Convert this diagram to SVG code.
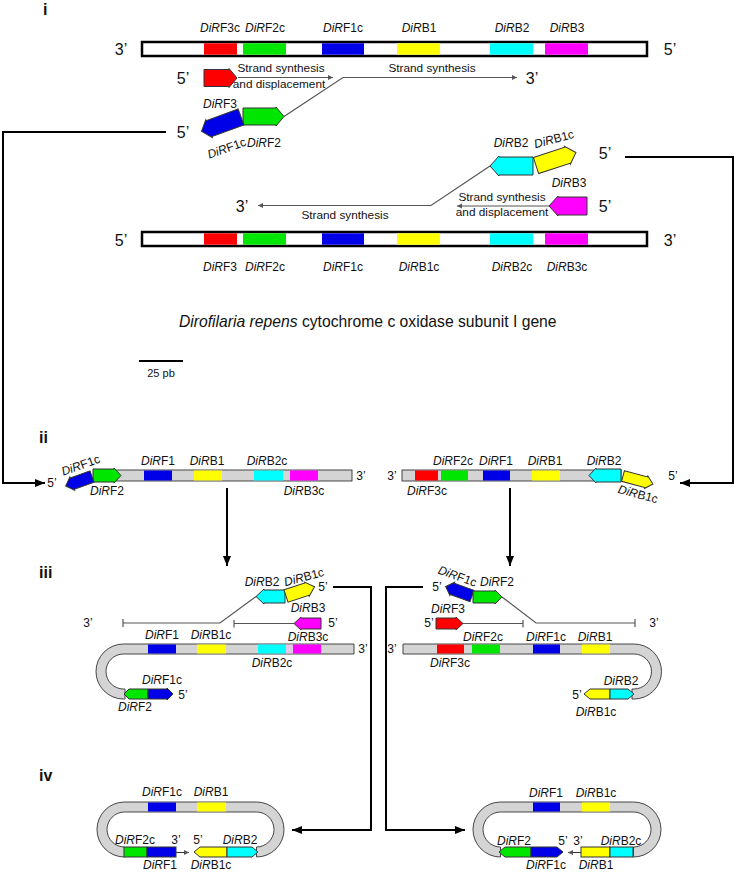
<svg xmlns="http://www.w3.org/2000/svg" width="736" height="872" viewBox="0 0 736 872">
<defs>
<style>
text{font-family:"Liberation Sans",Arial,sans-serif;fill:#111}
.l{font-size:12px}
.e{font-size:12px;text-anchor:middle}
.p{font-size:16px;text-anchor:middle}
.s{font-size:12px;text-anchor:middle}
.st{font-size:11.8px;text-anchor:middle}
.h{font-size:16px;font-weight:bold}
.it{font-style:italic}
.bar{fill:#fff;stroke:#000;stroke-width:2.5}
.gb{fill:#d4d4d4;stroke:#333;stroke-width:0.9}
.ar{stroke:#333;stroke-width:1}
.R{fill:#ff0000}.G{fill:#00e600}.B{fill:#0000e8}.Y{fill:#ffff00}.C{fill:#00ffff}.M{fill:#ff00ff}
.ln{fill:none;stroke:#555;stroke-width:1.2}
.cn{fill:none;stroke:#000;stroke-width:2}
</style>
<marker id="big" markerUnits="userSpaceOnUse" markerWidth="11" markerHeight="9" refX="10" refY="4" orient="auto" viewBox="0 0 11 9"><path d="M0,0 L10,4 L0,8 z" fill="#000"/></marker>
<marker id="sm" markerUnits="userSpaceOnUse" markerWidth="6" markerHeight="6" refX="5" refY="2.5" orient="auto" viewBox="0 0 6 6"><path d="M0,0 L5,2.5 L0,5 z" fill="#555"/></marker>
<marker id="tk" markerUnits="userSpaceOnUse" markerWidth="3" markerHeight="8" refX="1" refY="4" orient="auto" viewBox="0 0 3 8"><path d="M1,0 V8" stroke="#555" stroke-width="1.2"/></marker>
</defs>

<g id="connectors">
<path class="cn" d="M166,132 H3 V483 H45" marker-end="url(#big)"/>
<path class="cn" d="M625,157 H733 V483 H680" marker-end="url(#big)"/>
<path class="cn" d="M227,488 V566" marker-end="url(#big)"/>
<path class="cn" d="M510,488 V566" marker-end="url(#big)"/>
<path class="cn" d="M333,587 H371 V830 H292" marker-end="url(#big)"/>
<path class="cn" d="M423,587 H386 V830 H465" marker-end="url(#big)"/>
</g>

<g id="section-i">
<text class="h" x="43" y="15">i</text>
<g id="top-strand">
<rect class="bar" x="142" y="42" width="505" height="14"/>
<rect class="R" x="204" y="43.3" width="33" height="11.4"/>
<rect class="G" x="243" y="43.3" width="43" height="11.4"/>
<rect class="B" x="322" y="43.3" width="42" height="11.4"/>
<rect class="Y" x="397" y="43.3" width="43" height="11.4"/>
<rect class="C" x="490" y="43.3" width="43" height="11.4"/>
<rect class="M" x="545" y="43.3" width="43" height="11.4"/>
<text class="p" x="121" y="55">3’</text>
<text class="p" x="670" y="55">5’</text>
<text class="e" x="220" y="32"><tspan class="it">DiR</tspan>F3c</text>
<text class="e" x="265" y="32"><tspan class="it">DiR</tspan>F2c</text>
<text class="e" x="343" y="32"><tspan class="it">DiR</tspan>F1c</text>
<text class="e" x="419" y="32"><tspan class="it">DiR</tspan>B1</text>
<text class="e" x="512" y="32"><tspan class="it">DiR</tspan>B2</text>
<text class="e" x="567" y="32"><tspan class="it">DiR</tspan>B3</text>
</g>
<g id="bottom-strand">
<rect class="bar" x="142" y="232" width="505" height="14"/>
<rect class="R" x="204" y="233.3" width="33" height="11.4"/>
<rect class="G" x="243" y="233.3" width="43" height="11.4"/>
<rect class="B" x="322" y="233.3" width="42" height="11.4"/>
<rect class="Y" x="397" y="233.3" width="43" height="11.4"/>
<rect class="C" x="490" y="233.3" width="43" height="11.4"/>
<rect class="M" x="545" y="233.3" width="43" height="11.4"/>
<text class="p" x="121" y="246">5’</text>
<text class="p" x="670" y="246">3’</text>
<text class="e" x="220" y="271"><tspan class="it">DiR</tspan>F3</text>
<text class="e" x="265" y="271"><tspan class="it">DiR</tspan>F2c</text>
<text class="e" x="343" y="271"><tspan class="it">DiR</tspan>F1c</text>
<text class="e" x="419" y="271"><tspan class="it">DiR</tspan>B1c</text>
<text class="e" x="512" y="271"><tspan class="it">DiR</tspan>B2c</text>
<text class="e" x="567" y="271"><tspan class="it">DiR</tspan>B3c</text>
</g>
<g id="f-primers">
<path class="ln" d="M238,77.5 H333" marker-end="url(#sm)"/>
<text class="st" x="281" y="72">Strand synthesis</text>
<text class="st" x="279" y="88">and displacement</text>
<path class="ln" d="M284,116.5 L343,77.5 H517" marker-end="url(#sm)"/>
<text class="st" x="432" y="72">Strand synthesis</text>
<text class="p" x="532" y="84">3’</text>
<text class="p" x="183" y="84">5’</text>
<polygon class="R ar" transform="translate(204,78)" points="0,-8.5 25,-8.5 25,-9.5 33,0 25,9.5 25,8.5 0,8.5"/>
<polygon class="G ar" transform="translate(243,116.5)" points="0,-8.5 33,-8.5 33,-9.5 41,0 33,9.5 33,8.5 0,8.5"/>
<polygon class="B ar" transform="translate(241,117) rotate(-20)" points="0,-8.5 -34,-8.5 -34,-9.5 -42,0 -34,9.5 -34,8.5 0,8.5"/>
<text class="e" x="220" y="108"><tspan class="it">DiR</tspan>F3</text>
<text class="e" transform="translate(228,152) rotate(-20)"><tspan class="it">DiR</tspan>F1c</text>
<text class="e" x="264" y="147"><tspan class="it">DiR</tspan>F2</text>
<text class="p" x="183" y="138">5’</text>
</g>
<g id="b-primers">
<path class="ln" d="M490,166 L431,205.5 H258" marker-end="url(#sm)"/>
<text class="st" x="345" y="219">Strand synthesis</text>
<text class="p" x="242" y="212">3’</text>
<path class="ln" d="M549,206 H457" marker-end="url(#sm)"/>
<text class="st" x="502" y="201">Strand synthesis</text>
<text class="st" x="502" y="216">and displacement</text>
<polygon class="C ar" transform="translate(533,166)" points="0,-9 -34,-9 -34,-10 -43,0 -34,10 -34,9 0,9"/>
<polygon class="Y ar" transform="translate(536,165.5) rotate(-18)" points="0,-8.5 33,-8.5 33,-9.5 42,0 33,9.5 33,8.5 0,8.5"/>
<polygon class="M ar" transform="translate(587,206)" points="0,-9 -29,-9 -29,-10 -38,0 -29,10 -29,9 0,9"/>
<text class="e" x="511" y="147"><tspan class="it">DiR</tspan>B2</text>
<text class="e" transform="translate(555,143) rotate(-15)"><tspan class="it">DiR</tspan>B1c</text>
<text class="e" x="569" y="187"><tspan class="it">DiR</tspan>B3</text>
<text class="p" x="605" y="159">5’</text>
<text class="p" x="605" y="212">5’</text>
</g>
<g id="title">
<text x="179" y="327" style="font-size:15.7px"><tspan class="it">Dirofilaria repens</tspan> cytochrome c oxidase subunit I gene</text>
<path d="M139,361 H183" stroke="#000" stroke-width="2.2"/>
<text x="161" y="377" style="font-size:11px;text-anchor:middle">25 pb</text>
</g>
</g>

<g id="section-ii">
<text class="h" x="39" y="443">ii</text>
<g id="ii-left">
<rect class="gb" x="115" y="470" width="237" height="11"/>
<rect class="B" x="144" y="470.5" width="28" height="10"/>
<rect class="Y" x="194" y="470.5" width="28" height="10"/>
<rect class="C" x="254" y="470.5" width="29" height="10"/>
<rect class="M" x="290" y="470.5" width="28" height="10"/>
<polygon class="G ar" transform="translate(93,475.5)" points="0,-6.5 21,-6.5 21,-7.5 28,0 21,7.5 21,6.5 0,6.5"/>
<polygon class="B ar" transform="translate(92,476.5) rotate(-20)" points="0,-6 -21,-6 -21,-7 -28,0 -21,7 -21,6 0,6"/>
<text class="s" x="52" y="487">5’</text>
<text class="s" x="361" y="480">3’</text>
<text class="e" transform="translate(82,469) rotate(-20)"><tspan class="it">DiR</tspan>F1c</text>
<text class="e" x="107" y="495"><tspan class="it">DiR</tspan>F2</text>
<text class="e" x="158" y="465"><tspan class="it">DiR</tspan>F1</text>
<text class="e" x="207" y="465"><tspan class="it">DiR</tspan>B1</text>
<text class="e" x="267" y="465"><tspan class="it">DiR</tspan>B2c</text>
<text class="e" x="304" y="495"><tspan class="it">DiR</tspan>B3c</text>
</g>
<g id="ii-right">
<rect class="gb" x="402" y="470" width="219" height="11"/>
<rect class="R" x="415" y="470.5" width="23" height="10"/>
<rect class="G" x="441" y="470.5" width="27" height="10"/>
<rect class="B" x="483" y="470.5" width="27" height="10"/>
<rect class="Y" x="532" y="470.5" width="28" height="10"/>
<polygon class="C ar" transform="translate(621,475.5)" points="0,-6.5 -25,-6.5 -25,-7.5 -32,0 -25,7.5 -25,6.5 0,6.5"/>
<polygon class="Y ar" transform="translate(623,476) rotate(15)" points="0,-5.5 24,-5.5 24,-6.5 31,0 24,6.5 24,5.5 0,5.5"/>
<text class="s" x="392" y="480">3’</text>
<text class="s" x="673" y="480">5’</text>
<text class="e" x="453" y="465"><tspan class="it">DiR</tspan>F2c</text>
<text class="e" x="496" y="465"><tspan class="it">DiR</tspan>F1</text>
<text class="e" x="545" y="465"><tspan class="it">DiR</tspan>B1</text>
<text class="e" x="604" y="465"><tspan class="it">DiR</tspan>B2</text>
<text class="e" x="427" y="495"><tspan class="it">DiR</tspan>F3c</text>
<text class="e" transform="translate(637,498) rotate(15)"><tspan class="it">DiR</tspan>B1c</text>
</g>
</g>

<g id="section-iii">
<text class="h" x="39" y="578">iii</text>
<g id="iii-left">
<path class="ln" d="M256,596.5 L220,623 H123" marker-end="url(#tk)"/>
<path class="ln" d="M294,623.5 H234" marker-end="url(#tk)"/>
<path class="gb" d="M354,644 H123.5 A27.5,27.5 0 0 0 123.5,699 H125 V689 H123.5 A17.5,17.5 0 0 1 123.5,654 H354 Z"/>
<rect class="B" x="148" y="644.5" width="28" height="9"/>
<rect class="Y" x="197" y="644.5" width="29" height="9"/>
<rect class="C" x="258" y="644.5" width="28" height="9"/>
<rect x="286" y="644.5" width="7" height="9" fill="#e8c8e8"/>
<rect class="M" x="293" y="644.5" width="28" height="9"/>
<polygon class="G ar" points="124,694 129,689 148,689 148,699 129,699"/>
<polygon class="B ar" points="148,689 167,689 167,688 173,694 167,700 167,699 148,699"/>
<polygon class="C ar" transform="translate(285,596.5)" points="0,-6.5 -21,-6.5 -21,-7.5 -29,0 -21,7.5 -21,6.5 0,6.5"/>
<polygon class="Y ar" transform="translate(286,596) rotate(-18)" points="0,-6.5 22,-6.5 22,-7.5 30,0 22,7.5 22,6.5 0,6.5"/>
<polygon class="M ar" transform="translate(321,623.5)" points="0,-5.5 -20,-5.5 -20,-6.5 -27,0 -20,6.5 -20,5.5 0,5.5"/>
<text class="s" x="88" y="627">3’</text>
<text class="s" x="323" y="591">5’</text>
<text class="s" x="333" y="627">5’</text>
<text class="s" x="363" y="653">3’</text>
<text class="s" x="183" y="699">5’</text>
<text class="e" x="262" y="586"><tspan class="it">DiR</tspan>B2</text>
<text class="e" transform="translate(305,581) rotate(-15)"><tspan class="it">DiR</tspan>B1c</text>
<text class="e" x="308" y="612"><tspan class="it">DiR</tspan>B3</text>
<text class="e" x="308" y="641"><tspan class="it">DiR</tspan>B3c</text>
<text class="e" x="162" y="639"><tspan class="it">DiR</tspan>F1</text>
<text class="e" x="211" y="639"><tspan class="it">DiR</tspan>B1c</text>
<text class="e" x="272" y="667"><tspan class="it">DiR</tspan>B2c</text>
<text class="e" x="162" y="684"><tspan class="it">DiR</tspan>F1c</text>
<text class="e" x="135" y="711"><tspan class="it">DiR</tspan>F2</text>
</g>
<g id="iii-right">
<path class="ln" d="M502,597 L536,623 H635" marker-end="url(#tk)"/>
<path class="ln" d="M463,623.5 H523" marker-end="url(#tk)"/>
<path class="gb" d="M403,644 H634 A27.5,27.5 0 0 1 634,699 H632 V689 H634 A17.5,17.5 0 0 0 634,654 H403 Z"/>
<rect class="R" x="437" y="644.5" width="27" height="9"/>
<rect class="G" x="472" y="644.5" width="28" height="9"/>
<rect class="B" x="533" y="644.5" width="27" height="9"/>
<rect class="Y" x="582" y="644.5" width="28" height="9"/>
<polygon class="Y ar" points="584,694 590,689 610,689 610,699 590,699"/>
<polygon class="C ar" points="610,689 628,689 634,694 628,699 610,699"/>
<polygon class="B ar" transform="translate(472,596) rotate(20)" points="0,-6 -21,-6 -21,-7 -28,0 -21,7 -21,6 0,6"/>
<polygon class="G ar" transform="translate(473,597)" points="0,-6 22,-6 22,-7 29,0 22,7 22,6 0,6"/>
<polygon class="R ar" transform="translate(436,623.5)" points="0,-5.5 20,-5.5 20,-6.5 27,0 20,6.5 20,5.5 0,5.5"/>
<text class="s" x="437" y="591">5’</text>
<text class="s" x="429" y="627">5’</text>
<text class="s" x="654" y="627">3’</text>
<text class="s" x="392" y="653">3’</text>
<text class="s" x="577" y="699">5’</text>
<text class="e" transform="translate(456,580) rotate(20)"><tspan class="it">DiR</tspan>F1c</text>
<text class="e" x="497" y="586"><tspan class="it">DiR</tspan>F2</text>
<text class="e" x="448" y="613"><tspan class="it">DiR</tspan>F3</text>
<text class="e" x="483" y="641"><tspan class="it">DiR</tspan>F2c</text>
<text class="e" x="546" y="641"><tspan class="it">DiR</tspan>F1c</text>
<text class="e" x="595" y="641"><tspan class="it">DiR</tspan>B1</text>
<text class="e" x="450" y="667"><tspan class="it">DiR</tspan>F3c</text>
<text class="e" x="621" y="685"><tspan class="it">DiR</tspan>B2</text>
<text class="e" x="596" y="716"><tspan class="it">DiR</tspan>B1c</text>
</g>
</g>

<g id="section-iv">
<text class="h" x="39" y="781">iv</text>
<g id="iv-left">
<path class="gb" d="M124.5,857 A27.5,27.5 0 0 1 124.5,802 H256.5 A27.5,27.5 0 0 1 256.5,857 V847 A17.5,17.5 0 0 0 256.5,812 H124.5 A17.5,17.5 0 0 0 124.5,847 Z"/>
<rect class="B" x="148" y="802.5" width="28" height="9"/>
<rect class="Y" x="197" y="802.5" width="29" height="9"/>
<rect class="G ar" x="124" y="847" width="23" height="10"/>
<rect class="B ar" x="147" y="847" width="29" height="10"/>
<path d="M176,852.5 H189" stroke="#333" stroke-width="1" marker-end="url(#sm)"/>
<polygon class="Y ar" points="194,852 200,847 227,847 227,857 200,857"/>
<polygon class="C ar" points="227,847 252,847 258,852 252,857 227,857"/>
<text class="e" x="162" y="796"><tspan class="it">DiR</tspan>F1c</text>
<text class="e" x="211" y="796"><tspan class="it">DiR</tspan>B1</text>
<text class="e" x="135" y="844"><tspan class="it">DiR</tspan>F2c</text>
<text class="s" x="176" y="844">3’</text>
<text class="s" x="198" y="844">5’</text>
<text class="e" x="240" y="844"><tspan class="it">DiR</tspan>B2</text>
<text class="e" x="160" y="869"><tspan class="it">DiR</tspan>F1</text>
<text class="e" x="211" y="869"><tspan class="it">DiR</tspan>B1c</text>
</g>
<g id="iv-right">
<path class="gb" d="M500.5,857 A27.5,27.5 0 0 1 500.5,802 H633.5 A27.5,27.5 0 0 1 633.5,857 V847 A17.5,17.5 0 0 0 633.5,812 H500.5 A17.5,17.5 0 0 0 500.5,847 Z"/>
<rect class="B" x="533" y="802.5" width="27" height="9"/>
<rect class="Y" x="582" y="802.5" width="28" height="9"/>
<polygon class="G ar" points="499,852 505,847 531,847 531,857 505,857"/>
<polygon class="B ar" points="531,847 557,847 563,852 557,857 531,857"/>
<path d="M581,852.5 H568" stroke="#333" stroke-width="1" marker-end="url(#sm)"/>
<rect class="Y ar" x="581" y="847" width="29" height="10"/>
<rect class="C ar" x="610" y="847" width="23" height="10"/>
<text class="e" x="546" y="797"><tspan class="it">DiR</tspan>F1</text>
<text class="e" x="596" y="797"><tspan class="it">DiR</tspan>B1c</text>
<text class="e" x="514" y="845"><tspan class="it">DiR</tspan>F2</text>
<text class="s" x="563" y="845">5’</text>
<text class="s" x="578" y="845">3’</text>
<text class="e" x="621" y="845"><tspan class="it">DiR</tspan>B2c</text>
<text class="e" x="546" y="869"><tspan class="it">DiR</tspan>F1c</text>
<text class="e" x="596" y="869"><tspan class="it">DiR</tspan>B1</text>
</g>
</g>
</svg>
